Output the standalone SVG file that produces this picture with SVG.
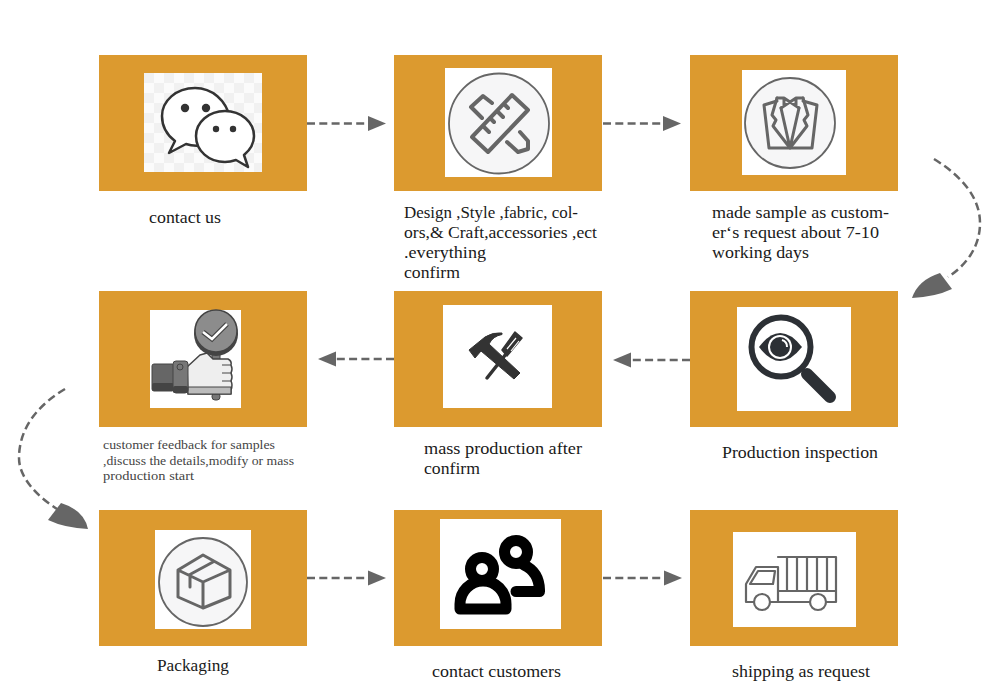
<svg xmlns="http://www.w3.org/2000/svg" width="1000" height="700" viewBox="0 0 1000 700">
<style>
.box{fill:#dc9a2f}
.w{fill:#fff}
.t{font-family:"Liberation Serif","DejaVu Serif",serif;font-size:17px;fill:#1a1a1a}
.s{font-family:"Liberation Serif","DejaVu Serif",serif;font-size:13px;fill:#444}
.c{fill:none;stroke:#666;stroke-width:2.5;stroke-dasharray:8 4.3}
.h{fill:#666}
.g{fill:none;stroke:#666;stroke-width:3;stroke-linejoin:round;stroke-linecap:round}
.ring{fill:#f6f6f7;stroke:#666;stroke-width:1.8}
</style>
<defs>
<marker id="tri" markerUnits="userSpaceOnUse" markerWidth="18" markerHeight="16" refX="0" refY="8" orient="auto">
<path d="M0,0.5L18,8L0,15.5Z" fill="#666"/>
</marker>
<pattern id="chk" width="20" height="20" patternUnits="userSpaceOnUse" x="144" y="73">
<rect width="20" height="20" fill="#fbfbfb"/>
<rect width="10" height="10" fill="#f1f1f1"/>
<rect x="10" y="10" width="10" height="10" fill="#f1f1f1"/>
</pattern>
</defs>
<rect width="1000" height="700" fill="#fff"/>

<g id="connectors">
<line class="c" x1="307" y1="123.500" x2="368" y2="123.500" marker-end="url(#tri)"/>
<line class="c" x1="603" y1="123.500" x2="663" y2="123.500" marker-end="url(#tri)"/>
<path class="c" d="M934,159C965,178 980,200 980,223C980,248 965,266 948,277"/>
<path class="h" d="M912,298Q918,280 940,273L952,289Q935,297 912,298Z"/>
<line class="c" x1="690" y1="360" x2="631" y2="360" marker-end="url(#tri)"/>
<line class="c" x1="394" y1="359" x2="336" y2="359" marker-end="url(#tri)"/>
<path class="c" d="M65,389C38,405 19,428 19,458C19,478 38,497 57,509"/>
<path class="h" d="M88,529Q84,510 61,503L48,520Q65,528 88,529Z"/>
<line class="c" x1="307" y1="578" x2="368" y2="578" marker-end="url(#tri)"/>
<line class="c" x1="603" y1="578" x2="664" y2="578" marker-end="url(#tri)"/>
</g>

<g id="node1">
<rect class="box" x="99" y="55" width="208" height="136"/>
<rect x="144" y="73" width="118" height="99" fill="url(#chk)"/>
<path d="M195,88C176,88 162,101 162,116C162,127 167,135 175,141L169,153L186,144C192,146 198,146 204,145L230,118C226,100 212,88 195,88Z" fill="#fff" stroke="#333" stroke-width="2.500" stroke-linejoin="round"/>
<path d="M225,111C209,111 196,122 196,136C196,151 209,162 225,162C229,162 233,161 236,160L248,167L244,155C250,150 254,144 254,136C254,122 241,111 225,111Z" fill="#fff" stroke="#333" stroke-width="2.500" stroke-linejoin="round"/>
<circle cx="185" cy="108" r="4.200" fill="#333"/><circle cx="206" cy="108" r="4.200" fill="#333"/>
<circle cx="216" cy="129" r="3.200" fill="#333"/><circle cx="233" cy="129" r="3.200" fill="#333"/>
<text class="t" x="149" y="223" textLength="72" lengthAdjust="spacingAndGlyphs">contact us</text>
</g>

<g id="node2">
<rect class="box" x="394" y="55" width="208" height="136"/>
<rect class="w" x="445" y="68" width="107" height="109"/>
<circle class="ring" cx="499" cy="123.500" r="50"/>
<path class="g" style="stroke-width:4" d="M512,95L528,110L488,152L472,137Z M504,104L508,108M497,111L503,117M490,118L494,122M483,126L489,132"/>
<path class="g" style="stroke-width:4" d="M492,103L483,96L471,107L482,118M520,132L528,141V149L518,152L507,142"/>
<text class="t" x="404" y="218" textLength="174" lengthAdjust="spacingAndGlyphs">Design ,Style ,fabric, col-</text>
<text class="t" x="404" y="238" textLength="193" lengthAdjust="spacingAndGlyphs">ors,&amp; Craft,accessories ,ect</text>
<text class="t" x="404" y="258" textLength="82" lengthAdjust="spacingAndGlyphs">.everything</text>
<text class="t" x="404" y="278" textLength="56" lengthAdjust="spacingAndGlyphs">confirm</text>
</g>

<g id="node3">
<rect class="box" x="690" y="55" width="208" height="136"/>
<rect class="w" x="742" y="70" width="104" height="105"/>
<circle class="ring" cx="790" cy="123" r="45"/>
<path class="g" d="M777,101L764,105L769,148H812L817,105L803,101"/>
<path class="g" d="M777,98L772,115L776,120L773,126L790,148L807,126L804,120L808,115L803,98M781,108L790,148L799,108"/>
<path class="g" d="M777,98H784L790,102L796,98H803M781,108L790,102L799,108M784,98V106M796,98V106"/>
<text class="t" x="712" y="218" textLength="177" lengthAdjust="spacingAndGlyphs">made sample as custom-</text>
<text class="t" x="712" y="238" textLength="167" lengthAdjust="spacingAndGlyphs">er‘s request about 7-10</text>
<text class="t" x="712" y="258" textLength="97" lengthAdjust="spacingAndGlyphs">working days</text>
</g>

<g id="node4">
<rect class="box" x="99" y="291" width="208" height="136"/>
<rect class="w" x="150" y="310" width="91" height="98"/>
<rect x="212" y="393" width="8" height="7" rx="3" fill="#777" stroke="#444"/>
<rect x="212" y="352" width="8" height="9" fill="#777" stroke="#444"/>
<circle cx="216" cy="334" r="22" fill="#444"/>
<circle cx="216" cy="331" r="21" fill="#8c8c8c" stroke="#444" stroke-width="1.500"/>
<path d="M203,332L212,339L227,324" fill="none" stroke="#444" stroke-width="5"/>
<path d="M203,332L212,339L227,324" fill="none" stroke="#fff" stroke-width="2.500"/>
<path d="M187,367L200,355L207,353L213,359H228Q232,361 231,365Q233,369 231,373Q233,377 231,381Q233,385 231,390V394H188Z" fill="#eee" stroke="#444" stroke-width="1.500" stroke-linejoin="round"/>
<path d="M188,387H231V394H188Z" fill="#bbb" stroke="#444" stroke-width="1.200"/>
<path d="M222,365H231M222,373H232M222,381H232" stroke="#444" stroke-width="1.200"/>
<rect x="152" y="364" width="22" height="27" rx="2" fill="#666" stroke="#444"/>
<rect x="152" y="383" width="22" height="8" rx="2" fill="#444"/>
<rect x="173" y="361" width="15" height="32" rx="3" fill="#777" stroke="#444"/>
<rect x="173" y="386" width="15" height="7" rx="2" fill="#444"/>
<circle cx="180" cy="367" r="3" fill="none" stroke="#444"/>
<text class="s" x="103" y="449" textLength="172" lengthAdjust="spacingAndGlyphs">customer feedback for samples</text>
<text class="s" x="103" y="465" textLength="191" lengthAdjust="spacingAndGlyphs">,discuss the details,modify or mass</text>
<text class="s" x="103" y="480" textLength="91" lengthAdjust="spacingAndGlyphs">production start</text>
</g>

<g id="node5">
<rect class="box" x="394" y="291" width="208" height="136"/>
<rect class="w" x="443" y="305" width="109" height="103"/>
<path d="M487,378L506,354" stroke="#333" stroke-width="3.500" stroke-linecap="round"/>
<path d="M515,332L522,338L507,356L502,350Z" fill="#333" stroke="#333" stroke-width="1.500" stroke-linejoin="round"/>
<path d="M507,349L516,338M511,351L519,341" stroke="#fff" stroke-width="1.200"/>
<path d="M469,350L485,337Q493,332 502,333V334.500Q493,336 489,344L520,373L514,379L481,351L475,358Z" fill="#333" stroke="#333" stroke-linejoin="round"/>
<text class="t" x="424" y="454" textLength="158" lengthAdjust="spacingAndGlyphs">mass production after</text>
<text class="t" x="424" y="474" textLength="56" lengthAdjust="spacingAndGlyphs">confirm</text>
</g>

<g id="node6">
<rect class="box" x="690" y="291" width="208" height="136"/>
<rect class="w" x="737" y="307" width="114" height="104"/>
<circle cx="781" cy="347" r="29.500" fill="none" stroke="#2c3035" stroke-width="6"/>
<path d="M807,374L830,397" stroke="#2c3035" stroke-width="12" stroke-linecap="round"/>
<path d="M759,347Q780,319 802,347Q780,375 759,347Z" fill="#2c3035"/>
<circle cx="780" cy="347" r="12" fill="#fff"/>
<circle cx="780" cy="347" r="10" fill="#2c3035"/>
<path d="M782,340A7,7 0 0 1 787,347" fill="none" stroke="#fff" stroke-width="2"/>
<text class="t" x="722" y="458" textLength="156" lengthAdjust="spacingAndGlyphs">Production inspection</text>
</g>

<g id="node7">
<rect class="box" x="99" y="510" width="208" height="136"/>
<rect class="w" x="155" y="530" width="96" height="99"/>
<circle class="ring" cx="203" cy="582" r="44"/>
<path class="g" d="M203,555L230,570V597L203,608L178,597V570ZM178,570L203,582L230,570M203,582V608M189,575L213,562M190,577V587"/>
<text class="t" x="157" y="671" textLength="72" lengthAdjust="spacingAndGlyphs">Packaging</text>
</g>

<g id="node8">
<rect class="box" x="394" y="510" width="208" height="136"/>
<rect class="w" x="440" y="519" width="121" height="110"/>
<g fill="none" stroke="#000" stroke-width="11" stroke-linejoin="round" stroke-linecap="round">
<circle cx="482" cy="569" r="11.500"/>
<path d="M460,609V604A23,23 0 0 1 506,604V609Z"/>
<circle cx="516" cy="552" r="11.500"/>
<path d="M524,565Q539,572 539.500,590V591.500H516"/>
</g>
<text class="t" x="432" y="677" textLength="129" lengthAdjust="spacingAndGlyphs">contact customers</text>
</g>

<g id="node9">
<rect class="box" x="690" y="510" width="208" height="136"/>
<rect class="w" x="733" y="532" width="123" height="95"/>
<path class="g" style="stroke-width:2.2" d="M778,557H836V602H746V584L756,567H778V602M778,591H836M787,557V591M797,557V591M807,557V591M817,557V591M827,557V591M750,584L758,571H775L773,584Z"/>
<circle cx="762" cy="602" r="8" fill="#fff" stroke="#666" stroke-width="2.200"/>
<circle cx="818" cy="602" r="8" fill="#fff" stroke="#666" stroke-width="2.200"/>
<text class="t" x="732" y="677" textLength="138" lengthAdjust="spacingAndGlyphs">shipping as request</text>
</g>
</svg>
